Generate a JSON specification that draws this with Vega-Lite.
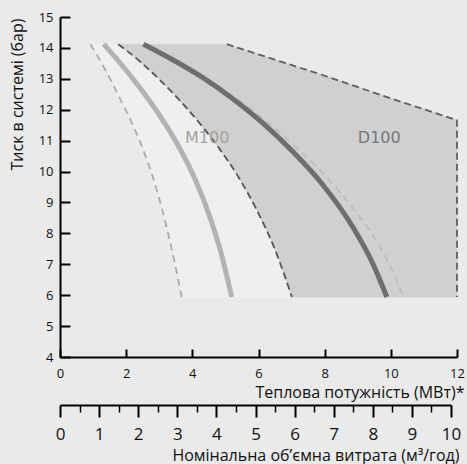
{
  "$schema": "https://vega.github.io/schema/vega-lite/v6.json",
  "width": 397,
  "height": 340,
  "autosize": {"type": "none"},
  "padding": {"left": 60, "top": 17, "right": 10, "bottom": 107},
  "background": "#eaeaea",
  "config": {"view": {"stroke": null}, "font": "Open Sans"},
  "datasets": {
    "m100fillA": [
      {"x": 0.92, "y": 14.12, "yb": 14.12},
      {"x": 1.36, "y": 14.12, "yb": 13.31},
      {"x": 1.81, "y": 14.12, "yb": 12.37},
      {"x": 2.27, "y": 14.12, "yb": 11.34},
      {"x": 2.63, "y": 14.12, "yb": 10.37},
      {"x": 2.93, "y": 14.12, "yb": 9.39},
      {"x": 3.21, "y": 14.12, "yb": 8.26},
      {"x": 3.45, "y": 14.12, "yb": 7.13},
      {"x": 3.68, "y": 14.12, "yb": 5.94}
    ],
    "m100fillB": [
      {"x": 3.68, "y": 14.12, "yb": 5.94},
      {"x": 5.04, "y": 14.12, "yb": 5.94},
      {"x": 7.01, "y": 13.44, "yb": 5.94}
    ],
    "d100fillA": [
      {"x": 1.76, "y": 14.12, "yb": 14.12},
      {"x": 2.42, "y": 14.12, "yb": 13.56},
      {"x": 3.02, "y": 14.12, "yb": 12.96},
      {"x": 3.63, "y": 14.12, "yb": 12.29},
      {"x": 4.23, "y": 14.12, "yb": 11.55},
      {"x": 4.84, "y": 14.12, "yb": 10.71},
      {"x": 5.44, "y": 13.98, "yb": 9.74},
      {"x": 5.95, "y": 13.81, "yb": 8.75},
      {"x": 6.5, "y": 13.62, "yb": 7.47},
      {"x": 7.01, "y": 13.44, "yb": 5.94}
    ],
    "d100fillB": [
      {"x": 7.01, "y": 13.44, "yb": 5.94},
      {"x": 7.86, "y": 13.15, "yb": 5.94},
      {"x": 9.88, "y": 12.41, "yb": 5.94},
      {"x": 12.0, "y": 11.66, "yb": 5.94}
    ],
    "curves": [
      {"c": "m100lo", "x": 0.92, "y": 14.12},
      {"c": "m100lo", "x": 1.36, "y": 13.31},
      {"c": "m100lo", "x": 1.81, "y": 12.37},
      {"c": "m100lo", "x": 2.27, "y": 11.34},
      {"c": "m100lo", "x": 2.63, "y": 10.37},
      {"c": "m100lo", "x": 2.93, "y": 9.39},
      {"c": "m100lo", "x": 3.21, "y": 8.26},
      {"c": "m100lo", "x": 3.45, "y": 7.13},
      {"c": "m100lo", "x": 3.68, "y": 5.94},
      {"c": "m100", "x": 1.32, "y": 14.12},
      {"c": "m100", "x": 1.88, "y": 13.43},
      {"c": "m100", "x": 2.42, "y": 12.7},
      {"c": "m100", "x": 3.02, "y": 11.8},
      {"c": "m100", "x": 3.63, "y": 10.73},
      {"c": "m100", "x": 4.08, "y": 9.76},
      {"c": "m100", "x": 4.54, "y": 8.5},
      {"c": "m100", "x": 4.87, "y": 7.36},
      {"c": "m100", "x": 5.19, "y": 5.94},
      {"c": "mid", "x": 1.76, "y": 14.12},
      {"c": "mid", "x": 2.42, "y": 13.56},
      {"c": "mid", "x": 3.02, "y": 12.96},
      {"c": "mid", "x": 3.63, "y": 12.29},
      {"c": "mid", "x": 4.23, "y": 11.55},
      {"c": "mid", "x": 4.84, "y": 10.71},
      {"c": "mid", "x": 5.44, "y": 9.74},
      {"c": "mid", "x": 5.95, "y": 8.75},
      {"c": "mid", "x": 6.5, "y": 7.47},
      {"c": "mid", "x": 7.01, "y": 5.94},
      {"c": "d100", "x": 2.52, "y": 14.12},
      {"c": "d100", "x": 3.42, "y": 13.61},
      {"c": "d100", "x": 4.33, "y": 13.03},
      {"c": "d100", "x": 5.23, "y": 12.35},
      {"c": "d100", "x": 6.14, "y": 11.56},
      {"c": "d100", "x": 7.05, "y": 10.63},
      {"c": "d100", "x": 7.96, "y": 9.55},
      {"c": "d100", "x": 8.86, "y": 8.19},
      {"c": "d100", "x": 9.47, "y": 6.99},
      {"c": "d100", "x": 9.88, "y": 5.94},
      {"c": "d100hi", "x": 3.18, "y": 13.73},
      {"c": "d100hi", "x": 4.23, "y": 13.12},
      {"c": "d100hi", "x": 5.29, "y": 12.39},
      {"c": "d100hi", "x": 6.35, "y": 11.53},
      {"c": "d100hi", "x": 7.26, "y": 10.66},
      {"c": "d100hi", "x": 8.17, "y": 9.69},
      {"c": "d100hi", "x": 8.92, "y": 8.72},
      {"c": "d100hi", "x": 9.59, "y": 7.72},
      {"c": "d100hi", "x": 10.04, "y": 6.8},
      {"c": "d100hi", "x": 10.38, "y": 5.94}
    ],
    "bound": [
      {"o": 1, "x": 5.04, "y": 14.12},
      {"o": 2, "x": 7.86, "y": 13.15},
      {"o": 3, "x": 9.88, "y": 12.41},
      {"o": 4, "x": 12.0, "y": 11.66},
      {"o": 5, "x": 12.0, "y": 5.94}
    ],
    "labels": [
      {"t": "M100", "x": 4.45, "y": 11.1, "g": "m"},
      {"t": "D100", "x": 9.65, "y": 11.1, "g": "d"}
    ]
  },
  "layer": [
    {
      "encoding": {
        "x": {
          "field": "x", "type": "quantitative",
          "scale": {"domain": [0, 12], "nice": false, "zero": false},
          "axis": {
            "values": [0, 2, 4, 6, 8, 10, 12],
            "grid": false,
            "domainColor": "#000", "domainWidth": 2,
            "tickColor": "#000", "tickWidth": 2, "tickSize": -8,
            "labelPadding": 18, "labelFontSize": 13, "labelColor": "#111", "labelFlush": false,
            "title": "Теплова потужність (МВт)*",
            "titleFontSize": 16, "titleFontWeight": "normal", "titleColor": "#111",
            "titleAlign": "right", "titleAnchor": "end", "titleX": 404, "titleY": 40, "titleBaseline": "alphabetic"
          }
        },
        "y": {
          "field": "y", "type": "quantitative",
          "scale": {"domain": [4, 15], "nice": false, "zero": false},
          "axis": {
            "values": [4, 5, 6, 7, 8, 9, 10, 11, 12, 13, 14, 15],
            "grid": false,
            "domainColor": "#000", "domainWidth": 2,
            "tickColor": "#000", "tickWidth": 2, "tickSize": -10,
            "labelPadding": 17, "labelFontSize": 13, "labelColor": "#111",
            "title": "Тиск в системі (бар)",
            "titleFontSize": 16, "titleFontWeight": "normal", "titleColor": "#111",
            "titleAngle": -90, "titleAlign": "right", "titleAnchor": "end", "titleX": -43, "titleY": 1, "titleBaseline": "middle"
          }
        }
      },
      "layer": [
        {
          "data": {"name": "m100fillA"},
          "mark": {"type": "area", "color": "#efefef", "stroke": "#efefef", "strokeWidth": 0.8, "interpolate": "monotone"},
          "encoding": {"y2": {"field": "yb"}}
        },
        {
          "data": {"name": "m100fillB"},
          "mark": {"type": "area", "color": "#efefef", "stroke": "#efefef", "strokeWidth": 0.8},
          "encoding": {"y2": {"field": "yb"}}
        },
        {
          "data": {"name": "d100fillA"},
          "mark": {"type": "area", "color": "#d0d0d0", "stroke": "#d0d0d0", "strokeWidth": 0.8, "interpolate": "monotone"},
          "encoding": {"y2": {"field": "yb"}}
        },
        {
          "data": {"name": "d100fillB"},
          "mark": {"type": "area", "color": "#d0d0d0", "stroke": "#d0d0d0", "strokeWidth": 0.8},
          "encoding": {"y2": {"field": "yb"}}
        },
        {
          "data": {"name": "curves"},
          "transform": [{"filter": "datum.c === 'm100lo'"}],
          "mark": {"type": "line", "color": "#ababab", "strokeWidth": 1.8, "strokeDash": [7, 5], "interpolate": "monotone"},
          "encoding": {}
        },
        {
          "data": {"name": "curves"},
          "transform": [{"filter": "datum.c === 'm100'"}],
          "mark": {"type": "line", "color": "#b3b3b3", "strokeWidth": 5, "interpolate": "monotone"},
          "encoding": {}
        },
        {
          "data": {"name": "curves"},
          "transform": [{"filter": "datum.c === 'mid'"}],
          "mark": {"type": "line", "color": "#555555", "strokeWidth": 1.8, "strokeDash": [7, 4], "interpolate": "monotone"},
          "encoding": {}
        },
        {
          "data": {"name": "curves"},
          "transform": [{"filter": "datum.c === 'd100hi'"}],
          "mark": {"type": "line", "color": "#bdbdbd", "strokeWidth": 1.8, "strokeDash": [7, 5], "interpolate": "monotone"},
          "encoding": {}
        },
        {
          "data": {"name": "curves"},
          "transform": [{"filter": "datum.c === 'd100'"}],
          "mark": {"type": "line", "color": "#6e6e6e", "strokeWidth": 5, "interpolate": "monotone"},
          "encoding": {}
        },
        {
          "data": {"name": "bound"},
          "mark": {"type": "line", "color": "#5f5f5f", "strokeWidth": 1.8, "strokeDash": [7, 4]},
          "encoding": {"order": {"field": "o", "type": "quantitative"}}
        },
        {
          "data": {"name": "labels"},
          "mark": {"type": "text", "font": "DejaVu Sans", "fontSize": 16, "align": "center", "baseline": "middle"},
          "encoding": {
            "text": {"field": "t"},
            "color": {"field": "g", "type": "nominal", "scale": {"domain": ["m", "d"], "range": ["#a3a3a3", "#777777"]}, "legend": null}
          }
        }
      ]
    },
    {
      "data": {"values": [{"q": 0}, {"q": 10}]},
      "mark": {"type": "point", "opacity": 0},
      "encoding": {
        "x": {
          "field": "q", "type": "quantitative",
          "scale": {"domain": [0, 10], "range": [0, 391], "nice": false, "zero": false},
          "axis": {
            "orient": "bottom", "offset": 48,
            "values": [0, 0.5, 1, 1.5, 2, 2.5, 3, 3.5, 4, 4.5, 5, 5.5, 6, 6.5, 7, 7.5, 8, 8.5, 9, 9.5, 10],
            "labelExpr": "datum.value % 1 === 0 ? '' + datum.value : ''",
            "grid": false,
            "domainColor": "#000", "domainWidth": 2,
            "tickColor": "#000",
            "tickWidth": {"condition": {"test": "datum.value % 1 !== 0", "value": 1.5}, "value": 2},
            "tickSize": {"condition": {"test": "datum.value % 1 !== 0", "value": 7}, "value": 12},
            "labelPadding": 9, "labelFontSize": 17, "labelColor": "#111", "labelFlush": false, "labelOverlap": false,
            "title": "Номінальна об’ємна витрата (м³/год)",
            "titleFontSize": 16, "titleFontWeight": "normal", "titleColor": "#111",
            "titleAlign": "right", "titleAnchor": "end", "titleX": 399, "titleY": 55, "titleBaseline": "alphabetic"
          }
        }
      }
    }
  ],
  "resolve": {"scale": {"x": "independent"}, "axis": {"x": "independent"}}
}
